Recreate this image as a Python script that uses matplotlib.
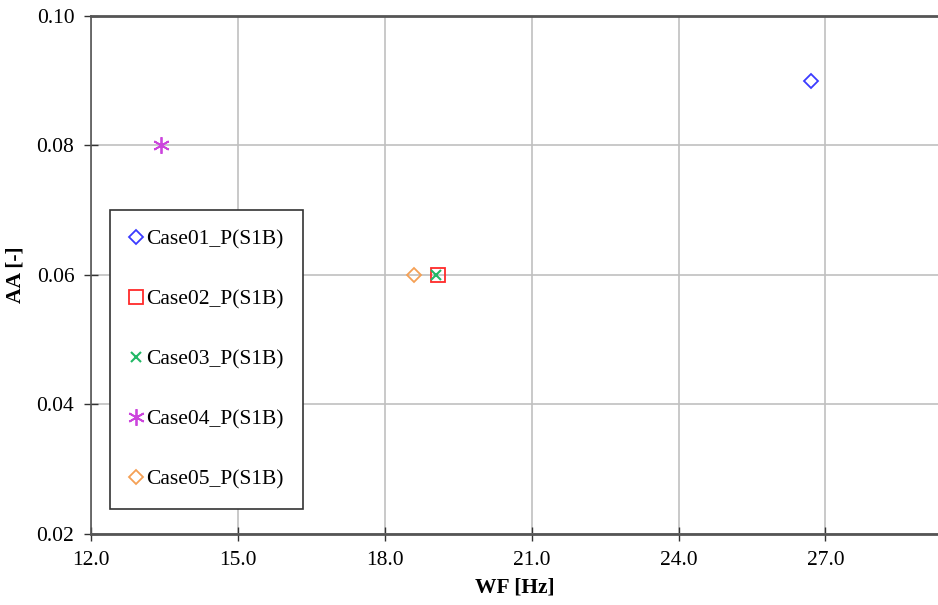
import matplotlib
matplotlib.use("Agg")
import matplotlib.pyplot as plt

# valeurs
labels = ["Case01_P(S1B)", "Case02_P(S1B)", "Case03_P(S1B)", "Case04_P(S1B)", "Case05_P(S1B)"]
wf = [26.7, 19.08, 19.05, 13.43, 18.6]
aa = [0.09, 0.06, 0.06, 0.08, 0.06]
colors = ["#3b3bff", "#ff2a2a", "#22b866", "#cc44dd", "#f5a055"]
markers = ["D", "s", "x", (6, 2, 0), "D"]
sizes = [7, 10, 7, 12, 7]

x_ticks = [12.0, 15.0, 18.0, 21.0, 24.0, 27.0]
y_ticks = [0.02, 0.04, 0.06, 0.08, 0.10]

plt.rcParams["font.family"] = ["Liberation Serif", "DejaVu Serif"]
plt.rcParams["font.size"] = 15.5

fig = plt.figure(figsize=(9.38, 6.05), dpi=100)
ax = fig.add_axes([0.097, 0.1174, 0.903, 0.8562])

for i in range(len(labels)):
    m = markers[i]
    filled = m in ("x", (6, 2, 0))
    ax.plot(wf[i], aa[i], linestyle="none", marker=m, markersize=sizes[i],
            markerfacecolor=colors[i] if filled else "none",
            markeredgecolor=colors[i], markeredgewidth=1.5 if m == "x" else 1.3,
            label=labels[i], zorder=3)

ax.set_xlim(12, 29.3)
ax.set_ylim(0.02, 0.10)
ax.set_xticks(x_ticks)
ax.set_xticklabels(["%.1f" % t for t in x_ticks])
ax.set_yticks(y_ticks)
ax.set_yticklabels(["%.2f" % t for t in y_ticks])
ax.grid(True, color="#c0c0c0", linewidth=1.2)
ax.set_axisbelow(True)
ax.tick_params(direction="inout", length=10, width=1, color="#333333", pad=7)

for s in ["top", "bottom", "left"]:
    ax.spines[s].set_color("#555555")
ax.spines["top"].set_linewidth(2)
ax.spines["bottom"].set_linewidth(2)
ax.spines["left"].set_linewidth(1.2)
ax.spines["right"].set_visible(False)

ax.set_xlabel("WF [Hz]", fontweight="bold", labelpad=6)
ax.set_ylabel("AA [-]", fontweight="bold", labelpad=8)

leg = ax.legend(loc="upper left", bbox_to_anchor=(0.0224, 0.6255), frameon=True,
                fancybox=False, labelspacing=1.86, handlelength=0.6,
                handletextpad=0.2, borderpad=0.9, borderaxespad=0,
                edgecolor="#333333", framealpha=1)
leg.get_frame().set_linewidth(1.2)

fig.savefig("out.png", dpi=100)
